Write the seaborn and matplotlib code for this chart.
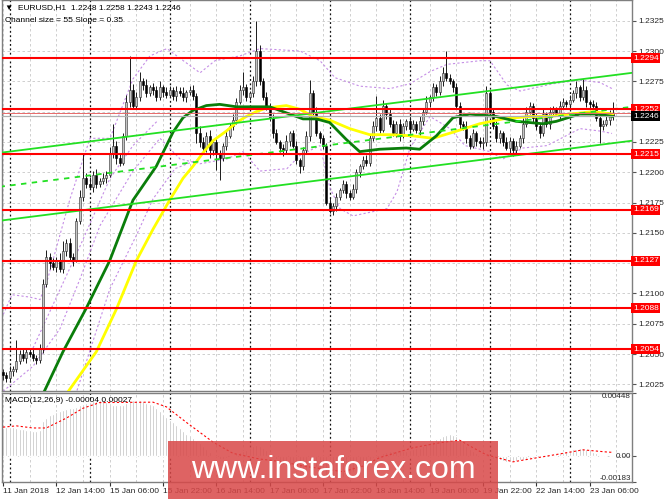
import numpy as np
import pandas as pd
import seaborn as sns
import matplotlib
matplotlib.use("Agg")
import matplotlib.pyplot as plt
from matplotlib.patches import Rectangle

sns.set_style("white")
plt.rcParams['font.family'] = ['Liberation Sans', 'DejaVu Sans']

# prices in pips above 1.2000, one hourly bar per value (bar 0 = 11 Jan 22:00)
first_open = 35
closes = [33, 30, 36, 38, 44, 50, 47, 52, 50, 47,
          45, 55, 108, 130, 125, 122, 128, 120, 135, 142,
          130, 128, 160, 180, 195, 190, 188, 198, 190, 193,
          195, 198, 215, 222, 212, 208, 230, 258, 268, 255,
          262, 275, 272, 265, 270, 268, 262, 270, 266, 264,
          268, 263, 267, 265, 262, 266, 268, 263, 232, 225,
          220, 230, 218, 225, 215, 212, 222, 230, 238, 243,
          258, 268, 270, 262, 265, 275, 300, 275, 262, 255,
          245, 232, 225, 220, 218, 226, 232, 222, 210, 205,
          218, 230, 265, 250, 232, 228, 222, 175, 168, 172,
          180, 185, 190, 183, 180, 186, 200, 205, 210, 208,
          228, 238, 245, 235, 255, 248, 240, 232, 240, 230,
          238, 242, 236, 240, 235, 242, 250, 258, 262, 270,
          266, 275, 282, 278, 275, 270, 255, 240, 238, 228,
          222, 232, 226, 224, 225, 265, 250, 238, 228, 232,
          225, 220, 226, 218, 222, 228, 240, 250, 255, 245,
          238, 232, 248, 240, 250, 252, 248, 255, 258, 256,
          260, 265, 270, 262, 268, 258, 256, 255, 245, 238,
          240, 243, 248, 246]
upper_wick = [3, 2, 4, 2, 18, 3, 5, 2, 3, 4,
              2, 3, 4, 6, 3, 4, 2, 5, 8, 3,
              4, 3, 2, 5, 20, 4, 6, 3, 5, 2,
              4, 3, 6, 18, 4, 3, 2, 6, 28, 5,
              4, 8, 3, 5, 2, 4, 3, 5, 2, 4,
              3, 2, 4, 3, 5, 2, 3, 4, 2, 6,
              4, 3, 5, 2, 4, 3, 2, 4, 3, 5,
              3, 4, 13, 3, 2, 4, 25, 5, 3, 4,
              2, 3, 4, 2, 3, 5, 2, 3, 4, 2,
              3, 4, 11, 3, 4, 2, 3, 2, 4, 3,
              3, 2, 4, 3, 2, 4, 3, 2, 3, 4,
              3, 4, 18, 3, 5, 2, 4, 3, 2, 4,
              3, 2, 4, 3, 2, 4, 3, 5, 2, 4,
              3, 4, 5, 18, 3, 2, 4, 3, 2, 4,
              3, 4, 2, 3, 4, 6, 3, 2, 4, 3,
              2, 4, 3, 2, 4, 3, 5, 4, 3, 2,
              4, 3, 5, 2, 4, 3, 2, 4, 3, 2,
              4, 3, 5, 2, 9, 3, 2, 4, 3, 2,
              3, 4, 3, 10]
lower_wick = [4, 3, 2, 4, 3, 2, 3, 4, 2, 3,
              3, 2, 4, 3, 5, 3, 4, 2, 3, 4,
              3, 5, 2, 3, 4, 3, 2, 4, 3, 2,
              3, 4, 2, 3, 5, 3, 2, 3, 4, 3,
              2, 3, 4, 3, 2, 4, 3, 2, 4, 3,
              2, 3, 4, 2, 3, 4, 2, 3, 8, 4,
              5, 3, 6, 4, 13, 18, 3, 4, 2, 3,
              3, 2, 4, 3, 2, 3, 4, 3, 2, 4,
              3, 4, 2, 3, 5, 3, 4, 2, 3, 6,
              3, 2, 4, 3, 2, 4, 3, 2, 2, 3,
              4, 3, 2, 4, 3, 2, 3, 4, 2, 3,
              3, 2, 4, 3, 2, 4, 3, 2, 3, 4,
              2, 3, 4, 2, 3, 4, 3, 2, 4, 3,
              3, 2, 4, 3, 2, 4, 3, 5, 3, 4,
              3, 2, 4, 3, 5, 3, 4, 2, 3, 4,
              3, 2, 4, 5, 3, 2, 4, 3, 2, 4,
              3, 4, 2, 3, 4, 3, 2, 4, 3, 2,
              3, 2, 4, 3, 2, 4, 3, 2, 3, 14,
              3, 2, 4, 3]

# moving averages (bar, pips)
ma_green_x = [8, 12, 18, 25, 32, 39, 46, 51, 54, 57, 61, 65, 70, 80, 85, 90, 94, 98, 103,
              107, 113, 121, 125, 130, 135, 140, 148, 154, 162, 166, 173, 178, 183]
ma_green_y = [-20, 17, 52, 88, 127, 177, 205, 233, 245, 251, 255, 256, 254, 254, 249, 244, 244,
              241, 227, 217, 219, 220, 219, 230, 245, 248, 246, 242, 240, 242, 248, 248, 246]
ma_yellow_x = [15, 19, 28, 34, 40, 45, 50, 54, 57, 60, 63, 67, 70, 73, 76, 79, 85, 89, 93,
               98, 104, 110, 116, 123, 129, 135, 143, 150, 158, 164, 170, 177, 183]
ma_yellow_y = [-15, 17, 52, 87, 127, 153, 177, 195, 205, 216, 226, 234, 241, 246, 250, 253,
               255, 252, 246, 243, 236, 231, 231, 230, 228, 233, 240, 244, 246, 246, 248, 250, 248]

# dotted envelope lines (bar, pips)
band_up_x = [-1, 2.7, 8.1, 11.1, 13.2, 20.1, 26.1, 32.1, 39, 44.1, 49.2, 53.1, 59.1, 63.6,
             71.1, 77.1, 89.1, 95.1, 99.6, 107.1, 116.1, 122.1, 128.1, 133.2, 143.1, 146.1,
             151.2, 155.1, 165, 173.1, 179.1, 182.7]
band_up_y = [76, 99, 97, 95, 110, 178, 228, 228, 277, 296, 302, 294, 282, 292,
             296, 302, 300, 292, 278, 271, 269, 273, 283, 289, 292, 292,
             272, 267, 273, 276, 274, 269]
band_lo_x = [-1, 9, 17.1, 23.1, 29.1, 39, 47.1, 53.1, 59.1, 67.2, 72, 77.1, 85.2, 89.1,
             95.1, 98.1, 101.1, 105, 115.2, 118.2, 122.1, 128.1, 134.1, 138.6, 146.1,
             150, 156, 163.2, 173.1, 179.1, 182.7]
band_lo_y = [17, 40, 71, 112, 156, 201, 228, 211, 207, 211, 217, 201, 203, 214,
             222, 187, 170, 164, 170, 184, 220, 246, 236, 222, 217,
             211, 220, 222, 236, 234, 232]
env_a_x = [9, 23.1, 32.1, 39, 46.2]
env_a_y = [55, 139, 195, 222, 242]
env_b_x = [22.2, 32.1, 40.2, 45, 51.6, 59.1]
env_b_y = [20, 104, 149, 178, 203, 211]

# regression channel (bar, pips at both ends)
channel_x = [-1.05, 188.7]
channel_upper = [216, 282]
channel_mid = [188, 254]
channel_lower = [160, 226]

levels = [1.2294, 1.2252, 1.2215, 1.2169, 1.2127, 1.2088, 1.2054]
current_price = 1.2246
ask_price = 1.2249

label_bars = [0, 16, 32, 48, 64, 80, 96, 112, 128, 144, 160, 176]
time_labels = ['11 Jan 2018', '12 Jan 14:00', '15 Jan 06:00', '15 Jan 22:00',
               '16 Jan 14:00', '17 Jan 06:00', '17 Jan 22:00', '18 Jan 14:00',
               '19 Jan 06:00', '19 Jan 22:00', '22 Jan 14:00', '23 Jan 06:00']
day_bars = [2, 26, 50, 74, 98, 122, 146, 170]
macd_ticks = [0.00448, 0.0, -0.00183]
macd_tick_labels = ['0.00448', '0.00', '-0.00183']

# MACD main (1e-5 units, one per bar) and signal anchors
macd = [200, 205, 210, 205, 200, 195, 190, 185, 185, 180,
        180, 185, 250, 270, 290, 300, 310, 320, 330, 335,
        340, 345, 350, 360, 370, 380, 385, 390, 395, 398,
        395, 385, 375, 365, 360, 360, 365, 380, 395, 400,
        398, 395, 390, 380, 370, 360, 345, 320, 300, 280,
        260, 240, 220, 200, 180, 160, 150, 130, 110, 90,
        70, 50, 30, 10, -10, -20, -20, -10, 0, 10,
        20, 30, 40, 45, 60, 70, 80, 75, 60, 45,
        20, 0, -20, -40, -60, -70, -80, -90, -100, -110,
        -110, -100, -80, -75, -80, -90, -110, -140, -160, -170,
        -165, -155, -150, -140, -125, -110, -95, -80, -65, -50,
        -30, -15, 0, 10, 20, 30, 35, 35, 35, 35,
        35, 40, 45, 50, 55, 60, 70, 85, 100, 110,
        120, 130, 140, 150, 155, 150, 140, 120, 95, 70,
        50, 35, 20, 5, -5, 0, -10, -20, -25, -30,
        -35, -40, -40, -38, -35, -30, -25, -20, -15, -12,
        -10, -8, -5, 0, 5, 10, 15, 20, 28, 35,
        42, 48, 52, 55, 55, 52, 48, 30, 20, 10,
        5, 0, -2, -4]
signal_x = [0, 4, 9, 13, 19, 24, 29, 45, 49, 55, 59, 63, 69, 77, 84, 90, 96, 102,
            108, 113, 123, 131, 137, 141, 145, 153, 158, 168, 174, 181, 183]
signal_y = [206, 215, 200, 200, 270, 340, 380, 383, 350, 240, 170, 100, 20, -20, -40,
            -70, -90, -110, -70, -10, 60, 95, 113, 60, 10, -40, -20, 20, 45, 30, 27]

# ---- build candle table ----
n = len(closes)
df = pd.DataFrame({'bar': np.arange(n),
                   'open': [first_open] + closes[:-1],
                   'close': closes})
df['high'] = df[['open', 'close']].max(axis=1) + np.array(upper_wick)
df['low'] = df[['open', 'close']].min(axis=1) - np.array(lower_wick)
for c in ['open', 'close', 'high', 'low']:
    df[c] = 1.2 + df[c] / 10000.0
df['bull'] = df['close'] >= df['open']

fig = plt.figure(figsize=(6.65, 4.99), dpi=100)
ax = fig.add_axes([2 / 665, 108 / 499, 630 / 665, 391 / 499])
ax2 = fig.add_axes([2 / 665, 17 / 499, 630 / 665, 89 / 499])

FS = 6
xlim = (-0.3, 188.7)
grid_c = '#c8c8c8'
for a in (ax, ax2):
    a.set_xlim(*xlim)
    for xb in range(0, 190, 8):
        a.axvline(xb, color=grid_c, lw=0.6, ls=(0, (3, 3)), zorder=0.5)
    for d in day_bars:
        a.axvline(d, color='#111111', lw=0.9, ls=(0, (1.5, 2)), zorder=0.6)
    for s in a.spines.values():
        s.set_color('#7f7f7f')
        s.set_linewidth(1.0)

# main panel
ax.set_ylim(1.201958, 1.234208)
yt = np.round(np.arange(1.2025, 1.2326, 0.0025), 4)
for t in yt:
    ax.axhline(t, color=grid_c, lw=0.6, ls=(0, (3, 3)), zorder=0.5)

# envelopes
purple = '#c58ee6'
for bx, by in [(band_up_x, band_up_y), (band_lo_x, band_lo_y),
               (env_a_x, env_a_y), (env_b_x, env_b_y)]:
    sns.lineplot(x=bx, y=1.2 + np.array(by) / 10000.0, ax=ax, color=purple, lw=0.8,
                 ls=(0, (2, 2)), estimator=None, sort=False, zorder=1)

# candles
ax.vlines(df['bar'], df['low'], df['high'], color='#1a1a1a', lw=0.7, zorder=2)
body_lo = df[['open', 'close']].min(axis=1)
body_h = (df['close'] - df['open']).abs().clip(lower=0.00002)
ax.bar(df['bar'], body_h, bottom=body_lo, width=0.62,
       color=np.where(df['bull'], '#c4c4c4', '#000000'),
       edgecolor=np.where(df['bull'], '#2a2a2a', '#000000'), lw=0.4, zorder=3)

# moving averages
sns.lineplot(x=ma_yellow_x, y=1.2 + np.array(ma_yellow_y) / 10000.0, ax=ax,
             color='#ffff00', lw=2.0, estimator=None, sort=False, zorder=3.5)
sns.lineplot(x=ma_green_x, y=1.2 + np.array(ma_green_y) / 10000.0, ax=ax,
             color='#0a7d0a', lw=2.0, estimator=None, sort=False, zorder=3.6)

# channel
lime = '#22e022'
for cy, st in [(channel_upper, '-'), (channel_mid, (0, (3, 3))), (channel_lower, '-')]:
    sns.lineplot(x=channel_x, y=1.2 + np.array(cy) / 10000.0, ax=ax, color=lime,
                 lw=1.3, ls=st, estimator=None, sort=False, zorder=3.7)

# levels
for lv in levels:
    ax.axhline(lv, color='#ff0000', lw=1.5, zorder=4)
    ax.text(1.0015, lv, f'{lv:.4f}', transform=ax.get_yaxis_transform(), ha='left',
            va='center', color='white', fontsize=FS, clip_on=False, zorder=6,
            bbox=dict(boxstyle='square,pad=0.18', fc='#ff0000', ec='none'))
ax.axhline(ask_price, color='#e86a6a', lw=0.7, zorder=4)
ax.axhline(current_price, color='#b0b0b0', lw=0.9, zorder=4)
ax.text(1.0015, current_price, f'{current_price:.4f}', transform=ax.get_yaxis_transform(),
        ha='left', va='center', color='white', fontsize=FS, clip_on=False, zorder=6,
        bbox=dict(boxstyle='square,pad=0.18', fc='#000000', ec='none'))

# price scale; labels hidden under the level boxes are left blank
ax.yaxis.tick_right()
ax.set_yticks(yt)
ax.set_yticklabels(['' if t in (1.2250, 1.2125) else f'{t:.4f}' for t in yt])
ax.tick_params(axis='y', labelsize=FS, length=3, pad=1.5, color='#555555', right=True)
ax.set_xticks([])
ax.set_xlabel('')
ax.set_ylabel('')

# MACD panel
ax2.set_ylim(-0.00183, 0.00448)
ax2.axhline(0, color=grid_c, lw=0.6, ls=(0, (3, 3)), zorder=0.5)
ax2.bar(np.arange(n), np.array(macd) / 100000.0, width=0.68, color='#b8b8b8', zorder=2)
sns.lineplot(x=signal_x, y=np.array(signal_y) / 100000.0, ax=ax2, color='#ff0000',
             lw=0.8, ls=(0, (2, 2)), estimator=None, sort=False, zorder=3)
ax2.yaxis.tick_right()
ax2.set_yticks(macd_ticks)
ax2.set_yticklabels([])
ax2.tick_params(axis='y', length=3, color='#555555')
for val, txt, va in zip(macd_ticks, macd_tick_labels, ['top', 'center', 'bottom']):
    ax2.text(664 / 665, val, txt, transform=ax2.get_yaxis_transform(), ha='right', va=va,
             fontsize=5.8, clip_on=False)
ax2.set_xticks(label_bars)
ax2.set_xticklabels(time_labels, fontsize=FS)
for lab in ax2.get_xticklabels():
    lab.set_ha('left')
ax2.tick_params(axis='x', length=3, pad=1.5, color='#333333', bottom=True)
ax2.set_xlabel('')
ax2.set_ylabel('')

# header texts
fig.text(5 / 665, 1 - 8 / 499, '\u25bc  EURUSD,H1  1.2248 1.2258 1.2243 1.2246',
         fontsize=FS, va='center', ha='left', color='black')
fig.text(5 / 665, 1 - 20 / 499, 'Channel size = 55 Slope = 0.35',
         fontsize=FS, va='center', ha='left', color='black')
fig.text(5 / 665, 1 - 400 / 499, 'MACD(12,26,9) -0.00004 0.00027',
         fontsize=FS, va='center', ha='left', color='black')

# watermark
fig.add_artist(Rectangle((168 / 665, 0.0), 330 / 665, 58 / 499, transform=fig.transFigure,
                         facecolor='#d94848', alpha=0.85, edgecolor='none', zorder=10))
fig.text(333 / 665, 1 - 470 / 499, 'www.instaforex.com', fontsize=23, color='white',
         ha='center', va='center', zorder=11)

fig.savefig('out.png', dpi=100)
